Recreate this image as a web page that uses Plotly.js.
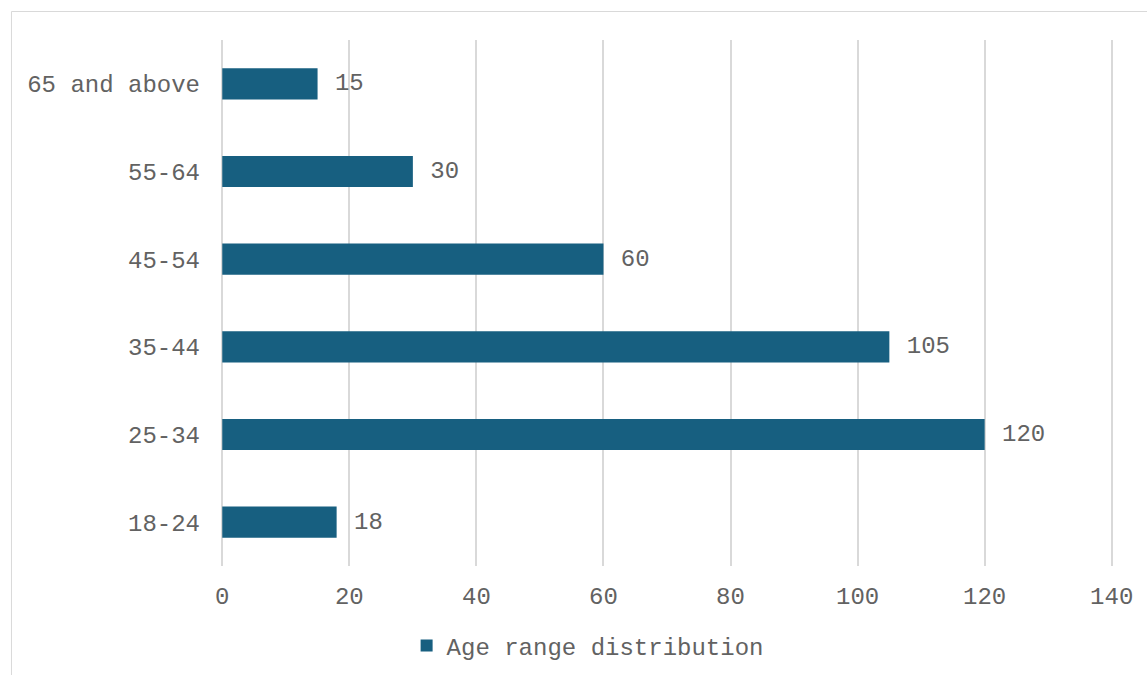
<!DOCTYPE html>
<html>
<head>
<meta charset="utf-8">
<script src="https://cdn.plot.ly/plotly-3.0.1.min.js"></script>
<style>
  html, body { margin: 0; padding: 0; background: #ffffff; }
  #chart { width: 1147px; height: 675px; }
</style>
</head>
<body>
<div id="chart"></div>
<script>
// Age groups, listed bottom to top
const ageGroups = ['18-24', '25-34', '35-44', '45-54', '55-64', '65 and above'];
const respondents = [18, 120, 105, 60, 30, 15];
const xTicks = [0, 20, 40, 60, 80, 100, 120, 140];
const seriesName = 'Age range distribution';

const FONT = 'Liberation Mono, Courier New, monospace';
const GREY = '#626262';

const trace = {
  type: 'bar',
  orientation: 'h',
  name: seriesName,
  y: ageGroups,
  x: respondents,
  marker: { color: '#175f80' },
  texttemplate: '\u00a0%{x}',
  textposition: 'outside',
  cliponaxis: false,
  textfont: { family: FONT, size: 24, color: GREY },
  hoverinfo: 'x+y'
};

const layout = {
  width: 1147,
  height: 675,
  margin: { l: 221, r: 34, t: 40, b: 109, autoexpand: false },
  paper_bgcolor: '#ffffff',
  plot_bgcolor: '#ffffff',
  font: { family: FONT, size: 24, color: GREY },
  bargap: 0.645,
  showlegend: true,
  legend: {
    orientation: 'h',
    x: 0.411,
    xanchor: 'center',
    y: -0.152,
    yanchor: 'middle',
    font: { family: FONT, size: 24, color: GREY },
    itemwidth: 30
  },
  xaxis: {
    // a small pad keeps the gridlines at 0 and 140 inside the plot area
    range: [-0.2, 140.2],
    tickvals: xTicks,
    ticktext: xTicks.map(String),
    showgrid: true,
    gridcolor: '#d9d9d9',
    gridwidth: 2,
    zeroline: false,
    showline: false,
    ticks: '',
    ticklabelstandoff: 13,
    fixedrange: true
  },
  yaxis: {
    type: 'category',
    categoryorder: 'array',
    categoryarray: ageGroups,
    range: [-0.5, 5.5],
    showgrid: false,
    zeroline: false,
    showline: false,
    ticks: '',
    ticklabelstandoff: 20,
    fixedrange: true
  },
  shapes: [{
    type: 'rect',
    xref: 'paper', yref: 'paper',
    x0: -0.2349, x1: 1.2,
    y0: -0.4, y1: 1.0542,
    line: { color: '#d9d9d9', width: 1 },
    fillcolor: 'rgba(0,0,0,0)',
    layer: 'below'
  }]
};

Plotly.newPlot('chart', [trace], layout, { displayModeBar: false, staticPlot: true });
</script>
</body>
</html>
